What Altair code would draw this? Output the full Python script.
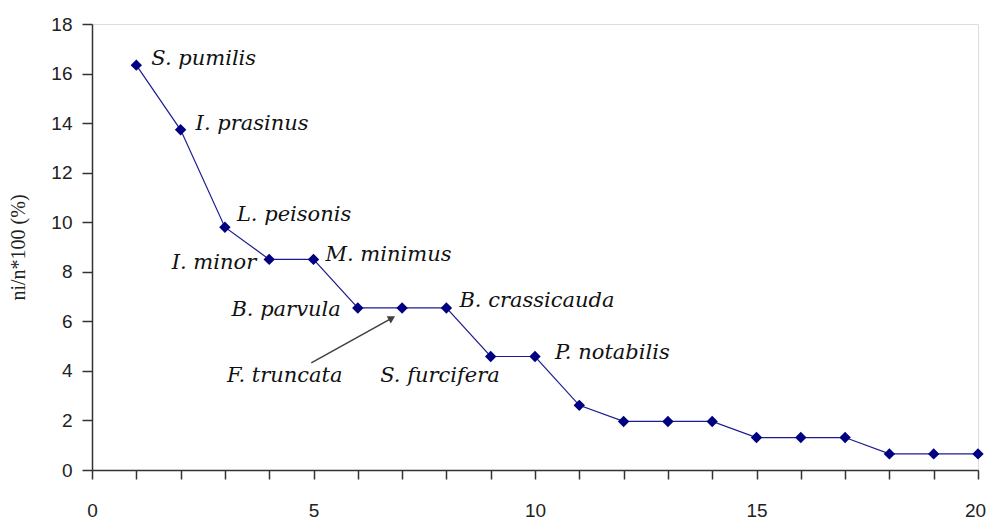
import altair as alt
import pandas as pd

# ---- data ----
ranks = list(range(1, 21))
values = [16.34, 13.73, 9.80, 8.50, 8.50, 6.54, 6.54, 6.54, 4.58, 4.58,
          2.61, 1.96, 1.96, 1.96, 1.31, 1.31, 1.31, 0.65, 0.65, 0.65]
species = ["S. pumilis", "I. prasinus", "L. peisonis", "I. minor", "M. minimus",
           "B. parvula", "F. truncata", "B. crassicauda", "S. furcifera", "P. notabilis"]
# arrow (data coordinates) pointing from the F. truncata label to its point
arrow_x = [4.95, 6.77]
arrow_y = [4.32, 6.13]

x_ticks = list(range(0, 21))
y_ticks = list(range(0, 19, 2))

# label placement style: (align, dx, dy)
label_style = [
    ("left", 15, -6),
    ("left", 15, -6),
    ("left", 12, -12),
    ("right", -13, 4),
    ("left", 12, -4),
    ("right", -17, 2),
    ("left", -175, 68),
    ("left", 13, -7),
    ("right", 9, 19),
    ("left", 20, -4),
]

df = pd.DataFrame({"rank": ranks, "value": values})
NAVY = "#000080"

x_enc = alt.X("rank:Q", scale=alt.Scale(domain=[0, 20], nice=False),
              axis=alt.Axis(values=x_ticks, title=None, grid=False,
                            labelExpr="datum.value % 5 == 0 ? datum.label : ''",
                            labelFlush=False, tickSize=9, labelPadding=22,
                            labelOffset={"condition": {"test": "datum.value == 20", "value": -3},
                                         "value": 0},
                            labelFont="Liberation Sans", labelFontSize=19,
                            labelColor="#222222", domainColor="#333333",
                            tickColor="#333333", domainWidth=1.5, tickWidth=1.5))
y_enc = alt.Y("value:Q", scale=alt.Scale(domain=[0, 18], nice=False),
              axis=alt.Axis(values=y_ticks, title="ni/n*100 (%)", grid=False,
                            tickSize=10, labelPadding=10,
                            labelFont="Liberation Sans", labelFontSize=19,
                            labelColor="#222222", domainColor="#333333",
                            tickColor="#333333", domainWidth=1.5, tickWidth=1.5,
                            titleFont="Liberation Serif", titleFontSize=20,
                            titleFontWeight="normal", titleColor="#222222",
                            titlePadding=22))

line = alt.Chart(df).mark_line(color="#1c1c90", strokeWidth=1.2).encode(x=x_enc, y=y_enc)
pts = alt.Chart(df).mark_point(shape="diamond", filled=True, color=NAVY,
                               size=130, opacity=1).encode(x="rank:Q", y="value:Q")

layers = [line, pts]
for i, name in enumerate(species):
    align, dx, dy = label_style[i]
    ldf = pd.DataFrame({"rank": [ranks[i]], "value": [values[i]], "name": [name]})
    layers.append(
        alt.Chart(ldf).mark_text(align=align, baseline="middle", dx=dx, dy=dy,
                                 font="DejaVu Serif", fontStyle="italic",
                                 fontSize=21, color="#111111")
        .encode(x="rank:Q", y="value:Q", text="name:N")
    )

adf = pd.DataFrame({"x": [arrow_x[0]], "y": [arrow_y[0]],
                    "x2": [arrow_x[1]], "y2": [arrow_y[1]]})
arrow = alt.Chart(adf).mark_rule(color="#404040", strokeWidth=1.5).encode(
    x="x:Q", y="y:Q", x2="x2:Q", y2="y2:Q")
hdf = pd.DataFrame({"x": [arrow_x[1]], "y": [arrow_y[1]]})
head = alt.Chart(hdf).mark_point(shape="triangle-up", filled=True, color="#404040",
                                 size=70, angle=61, opacity=1).encode(x="x:Q", y="y:Q")
layers += [arrow, head]

chart = alt.layer(*layers).properties(
    width=886, height=446,
    autosize=alt.AutoSizeParams(type="none"),
    padding={"left": 84, "top": 16, "right": 8, "bottom": 50},
).configure_view(stroke="#a0a0a0", strokeWidth=1.5).configure(background="white")

chart.save("out.html", embed_options={"renderer": "svg", "actions": False})
